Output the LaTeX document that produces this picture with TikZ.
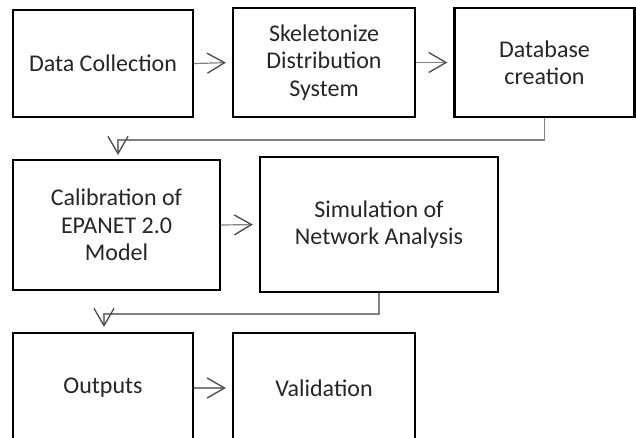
\documentclass[tikz,border=0pt]{standalone}
\usepackage{fontspec}
\setmainfont{Carlito}
\usetikzlibrary{arrows.meta}
\tikzset{
  box/.style = {draw = black, line width = 1.7pt, align = center, text = black!85, inner sep = 0pt, font = \fontsize{18}{20.5}\selectfont},
  conn/.style = {draw = black!50, line width = 0.9pt, -{Straight Barb[length = 13pt, width = 15pt, line width = 1pt, color = black!70]}}
}
\begin{document}
\begin{tikzpicture}[x = 0.75pt, y = -0.75pt]
\pgfmathsetlengthmacro\px{0.75pt};
\useasboundingbox (0,0) rectangle (636,437);
\clip (0,0) rectangle (636,437);
% first row
\node[box, minimum width = 180*\px, minimum height = 107*\px] (dc) at (103,63.5) {Data Collection};
\node[box, minimum width = 182*\px, minimum height = 109*\px] (sk) at (324,62.5) {Skeletonize\\Distribution\\System};
\node[box, minimum width = 180*\px, minimum height = 109*\px] (db) at (544.5,62.5) {Database\\creation};
% second row
\node[box, minimum width = 207*\px, minimum height = 130*\px] (cal) at (116.5,225) {Calibration of\\EPANET 2.0\\Model};
\node[box, minimum width = 238*\px, minimum height = 135*\px] (sim) at (379,224.5) {Simulation of\\Network Analysis};
% third row
\node[box, minimum width = 180*\px, minimum height = 110*\px] (out) at (103,388) {Outputs};
\node[box, minimum width = 182*\px, minimum height = 110*\px] (val) at (324,388) {Validation};
% connectors
\draw[conn, shorten > = 4.5pt] (dc.east) -- (sk.west);
\draw[conn, shorten > = 4.5pt] (sk.east) -- (db.west);
\draw[conn, shorten > = 4.5pt] (cal.east) -- (sim.west);
\draw[conn, shorten > = 4.5pt] (out.east) -- (val.west);
\coordinate (k1) at (118,140);
\coordinate (t1) at (118,155);
\draw[conn] (db.south) |- (k1) -- (t1);
\coordinate (k2) at (104,314);
\coordinate (t2) at (104,327);
\draw[conn] (sim.south) |- (k2) -- (t2);
\end{tikzpicture}
\end{document}
